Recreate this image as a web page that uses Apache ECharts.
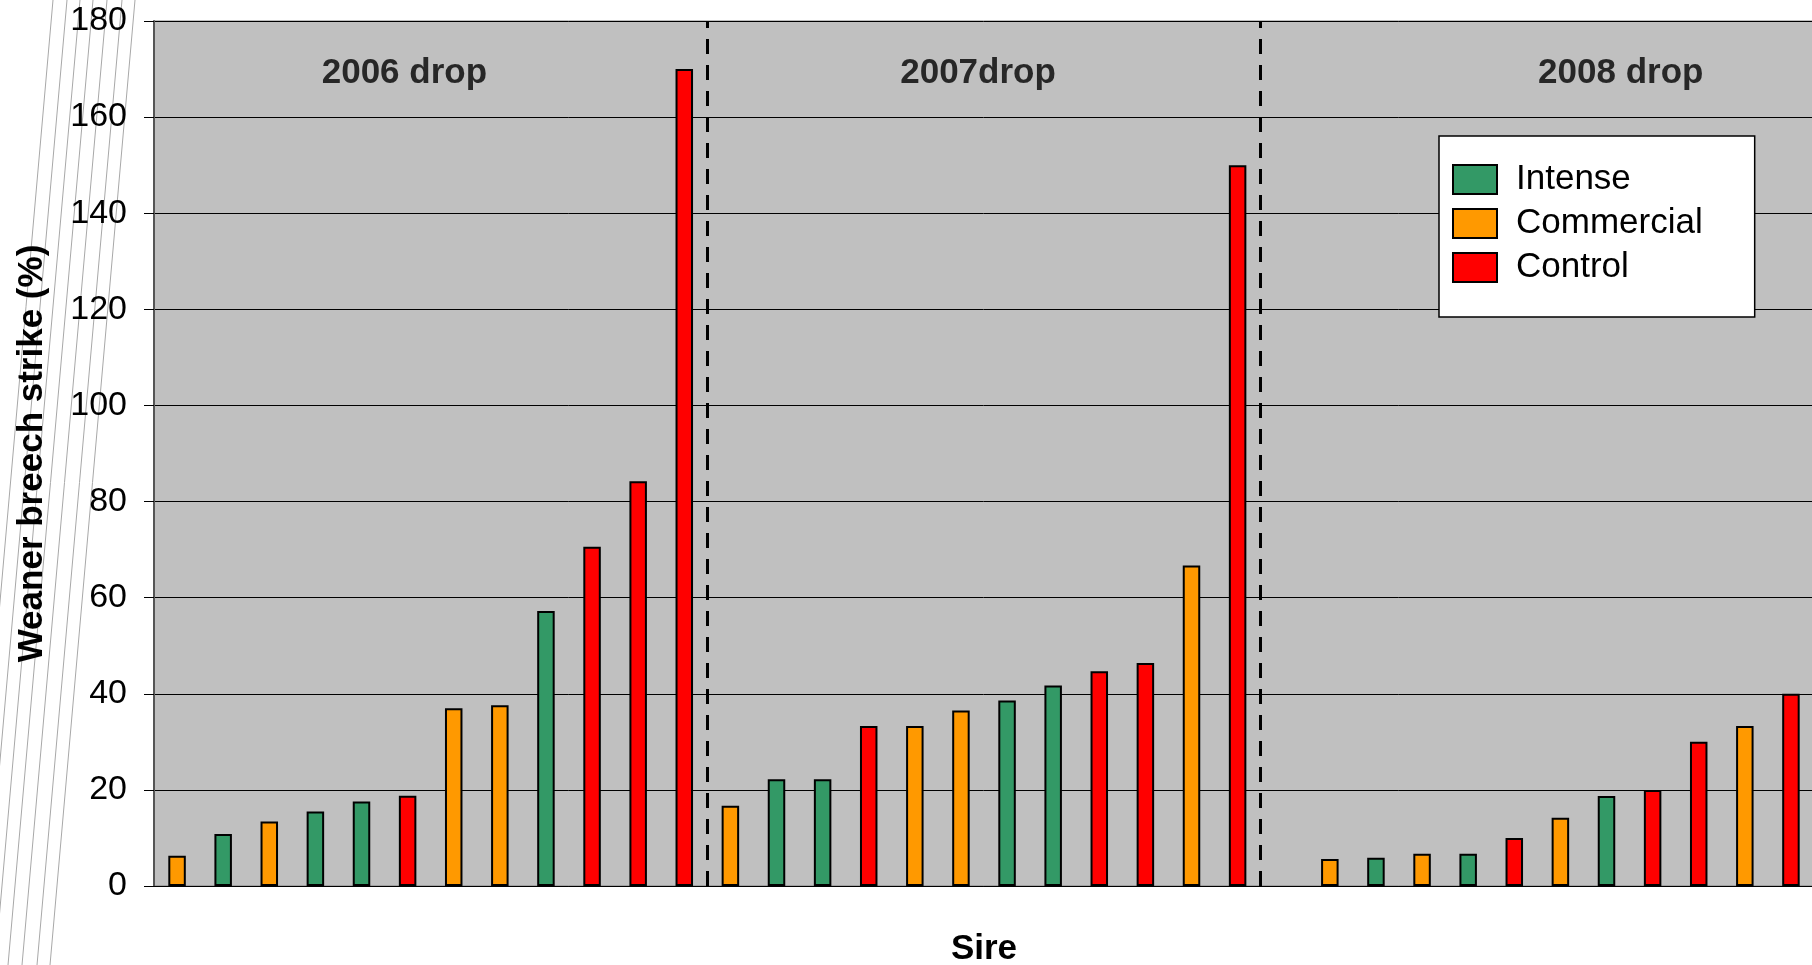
<!DOCTYPE html>
<html><head><meta charset="utf-8">
<script src="https://cdn.jsdelivr.net/npm/echarts@6/dist/echarts.min.js"></script>
<style>html,body{margin:0;padding:0;background:#fff}#c{width:1812px;height:965px}</style>
</head><body><div id="c"></div>
<script>
const seriesNames = ['Intense', 'Commercial', 'Control'];
const seriesColors = ['#339966', '#FF9900', '#FF0000'];

const drop2006Types = ['Commercial','Intense','Commercial','Intense','Intense','Control','Commercial','Commercial','Intense','Control','Control','Control'];
const drop2006Values = [6.3, 10.8, 13.4, 15.5, 17.6, 18.8, 37.0, 37.6, 57.2, 70.6, 84.2, 170.0];
const drop2007Types = ['Commercial','Intense','Intense','Control','Commercial','Commercial','Intense','Intense','Control','Control','Commercial','Control'];
const drop2007Values = [16.7, 22.2, 22.2, 33.3, 33.3, 36.5, 38.6, 41.7, 44.7, 46.4, 66.7, 150.0];
const drop2008Types = [null,'Commercial','Intense','Commercial','Intense','Control','Commercial','Intense','Control','Control','Commercial','Control'];
const drop2008Values = [null, 5.6, 5.9, 6.7, 6.7, 10.0, 14.2, 18.75, 20.0, 30.0, 33.3, 40.0];

const dropLabels = ['2006 drop', '2007drop', '2008 drop'];
const dropLabelX = [5.43, 17.87, 31.81];   // in sire-slot units
const dropLabelY = 169.2;
const dropBoundaries = [12, 24];

const yMin = 0, yMax = 180, yStep = 20;
const xTitle = 'Sire';
const yTitle = 'Weaner breech strike (%)';

const allTypes = [].concat(drop2006Types, drop2007Types, drop2008Types);
const allValues = [].concat(drop2006Values, drop2007Values, drop2008Values);
const categories = [].concat(
  drop2006Types.map((t, i) => '2006-' + (i + 1)),
  drop2007Types.map((t, i) => '2007-' + (i + 1)),
  drop2008Types.map((t, i) => '2008-' + (i + 1))
);

const FONT = "'Liberation Sans', Arial, sans-serif";

const barSeries = seriesNames.map((name, k) => ({
  name: name,
  type: 'bar',
  xAxisIndex: 0,
  yAxisIndex: 0,
  barWidth: 17.5,
  barGap: '-100%',
  itemStyle: { color: seriesColors[k], borderColor: '#000', borderWidth: 2 },
  data: allTypes.map((t, i) => (t === name ? allValues[i] : '-'))
}));

// decorative slanted artefact lines at the left of the original picture
const slantX = [53, 67, 80, 93, 107, 122, 135];
const graphics = slantX.map(x0 => ({
  type: 'line', z: -10, silent: true,
  shape: { x1: x0, y1: 0, x2: x0 - 85, y2: 965 },
  style: { stroke: '#a8a8a8', lineWidth: 1 }
}));

const chart = echarts.init(document.getElementById('c'), null, { renderer: 'canvas' });
chart.setOption({
  animation: false,
  textStyle: { fontFamily: FONT, color: '#000' },
  graphic: graphics,
  grid: {
    left: 154, top: 21, right: -2, bottom: 79,
    outerBoundsMode: 'none',
    containLabel: false,
    show: true, backgroundColor: '#C0C0C0', borderColor: '#808080', borderWidth: 1
  },
  legend: {
    data: seriesNames,
    orient: 'vertical',
    left: 1439, top: 136,
    backgroundColor: '#fff',
    borderColor: '#000', borderWidth: 1.5,
    padding: [26, 52, 32, 13],
    itemWidth: 44, itemHeight: 29, itemGap: 9,
    icon: 'rect',
    textStyle: { fontSize: 35, color: '#000', fontFamily: FONT, padding: [0, 0, 0, 14] }
  },
  xAxis: [{
    type: 'category',
    data: categories,
    axisLine: { show: true, lineStyle: { color: '#000', width: 1 } },
    axisTick: { show: false },
    axisLabel: { show: false },
    splitLine: { show: false },
    name: xTitle, nameLocation: 'middle', nameGap: 46,
    nameTextStyle: { fontSize: 35, fontWeight: 'bold', color: '#000', fontFamily: FONT }
  }, {
    type: 'value', min: 0, max: categories.length, show: false
  }],
  yAxis: {
    type: 'value', min: yMin, max: yMax, interval: yStep,
    axisLine: { show: true, lineStyle: { color: '#555', width: 2 } },
    axisTick: { show: true, length: 10, lineStyle: { color: '#000', width: 1 } },
    axisLabel: { fontSize: 34, color: '#000', margin: 27, fontFamily: FONT },
    splitLine: { show: true, lineStyle: { color: '#000', width: 1 } },
    name: yTitle, nameLocation: 'middle', nameRotate: 90, nameGap: 104,
    nameTextStyle: { fontSize: 35, fontWeight: 'bold', color: '#000', fontFamily: FONT }
  },
  series: barSeries.concat([{
    type: 'scatter',
    name: 'drops',
    xAxisIndex: 1, yAxisIndex: 0,
    symbolSize: 0,
    silent: true,
    z: 5,
    label: {
      show: true, position: 'inside', formatter: '{b}',
      fontSize: 35, fontWeight: 'bold', color: '#000', fontFamily: FONT
    },
    data: dropLabelX.map((x, i) => ({ name: dropLabels[i], value: [x, dropLabelY] })),
    markLine: {
      silent: true,
      symbol: ['none', 'none'],
      label: { show: false },
      lineStyle: { color: '#000', width: 3, type: [15, 11] },
      data: dropBoundaries.map(v => ({ xAxis: v }))
    }
  }])
});
</script>
</body></html>
